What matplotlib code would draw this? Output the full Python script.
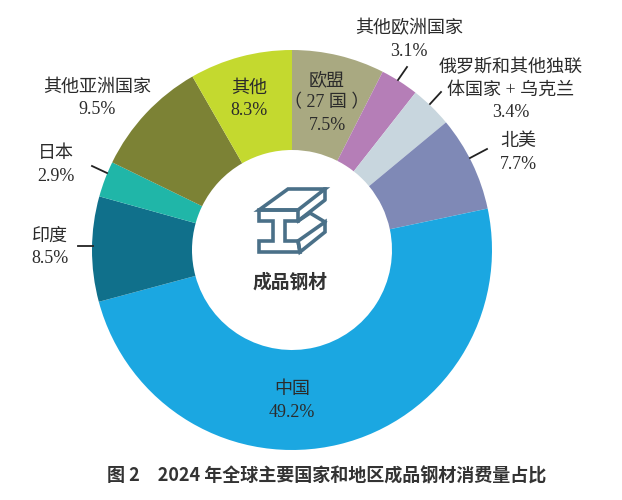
import matplotlib
matplotlib.use("Agg")
import matplotlib.pyplot as plt
from matplotlib.patches import Polygon

plt.rcParams['font.family'] = ['Liberation Serif', 'Noto Sans CJK SC', 'DejaVu Sans']

# Data, clockwise from 12 o'clock
regions = ['欧盟(27国)', '其他欧洲国家', '俄罗斯和其他独联体国家+乌克兰', '北美',
           '中国', '印度', '日本', '其他亚洲国家', '其他']
shares = [7.5, 3.1, 3.4, 7.7, 49.2, 8.5, 2.9, 9.5, 8.3]
colors = ['#A9A981', '#B57EB7', '#C8D6DE', '#7F89B6', '#1BA7E1',
          '#10708B', '#20B6A8', '#7C8235', '#C4D92F']
labels = ['欧盟\n（ 27 国 ）\n7.5%', '其他欧洲国家\n3.1%', '俄罗斯和其他独联\n体国家 + 乌克兰\n3.4%',
          '北美\n7.7%', '中国\n49.2%', '印度\n8.5%', '日本\n2.9%', '其他亚洲国家\n9.5%', '其他\n8.3%']
label_xy = [(327, 103), (409, 40), (511, 90), (518, 153), (292, 401),
            (50, 247), (56, 165), (97, 98), (249, 99)]

W, H = 622, 500
fig = plt.figure(figsize=(W / 100, H / 100), dpi=100)
ax = fig.add_axes([0, 0, 1, 1])

# pixel coordinates, y flipped by hand
def py(y):
    return H - y

ax.pie(shares, colors=colors, startangle=90, counterclock=False,
       center=(292, py(250)), radius=200, wedgeprops=dict(width=100, linewidth=0))
ax.set_xlim(0, W)
ax.set_ylim(0, H)
ax.axis('off')

for txt, (x, y) in zip(labels, label_xy):
    ax.text(x, py(y), txt, ha='center', va='center', fontsize=13,
            color='#2b2b2b', linespacing=1.4)

# leader lines
leaders = [((407, 67), (398, 80)), ((441, 92), (430, 104)), ((487, 149), (470, 158)),
           ((92, 166), (107, 173)), ((78, 246), (93, 246))]
for (x0, y0), (x1, y1) in leaders:
    ax.plot([x0, x1], [py(y0), py(y1)], color='#222222', lw=1.3)

# steel beam icon
icon = '#4A7088'
front = [(259, 210), (298, 210), (298, 221), (285, 221), (285, 241), (298, 241),
         (300, 252), (259, 252), (259, 241), (273, 241), (273, 221), (259, 221)]
top = [(259, 210), (288, 189), (325, 189), (298, 210)]
flange = [(325, 189), (325, 200), (298, 221)]
lower = [(298, 241), (325, 222), (325, 232), (300, 252)]
notch = [(298, 221), (310, 213), (325, 222)]
for pts in (front, top, lower):
    ax.add_patch(Polygon([(x, py(y)) for x, y in pts], closed=True, fill=False,
                         edgecolor=icon, lw=2.6, joinstyle='miter'))
for pts in (flange, notch):
    ax.plot([p[0] for p in pts], [py(p[1]) for p in pts], color=icon, lw=2.6)

ax.text(290, py(282), '成品钢材', ha='center', va='center', fontsize=13.5, fontweight='bold',
        family=['Noto Sans CJK SC'], color='#333333')

ax.text(327, py(476), '图 2　2024 年全球主要国家和地区成品钢材消费量占比', ha='center', va='center',
        fontsize=13, fontweight='bold', family=['Noto Sans CJK SC'], color='#333333')

fig.savefig('out.png', dpi=100)
